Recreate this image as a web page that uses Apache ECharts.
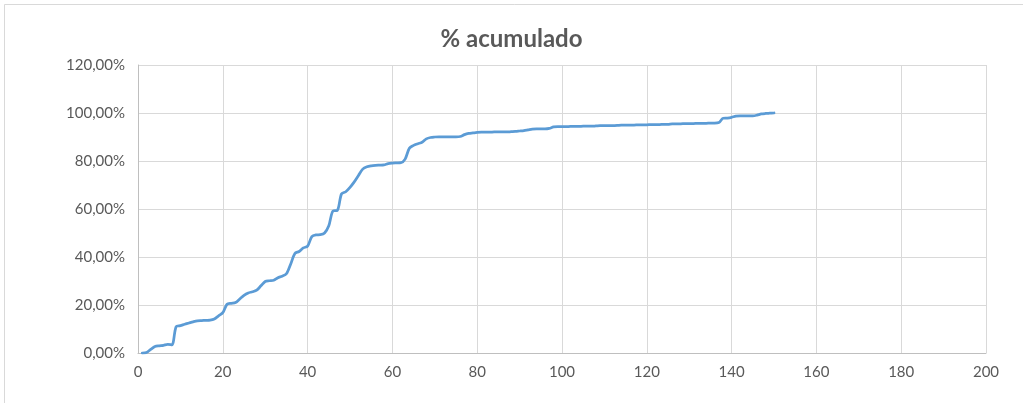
<!DOCTYPE html>
<html>
<head>
<meta charset="utf-8">
<script src="https://cdn.jsdelivr.net/npm/echarts@6/dist/echarts.min.js"></script>
<style>html,body{margin:0;padding:0;background:#fff}#c{width:1023px;height:403px}</style>
</head>
<body>
<div id="c"></div>
<script>
const titleText = "% acumulado";
const xValues = [];
for (let i = 1; i <= 150; i++) xValues.push(i);
const pctValues = [
  0, 0.2, 1.5, 2.7, 3.0, 3.2, 3.6, 3.4, 11.0, 11.4,
  12.0, 12.5, 13.0, 13.4, 13.5, 13.6, 13.7, 14.2, 15.5, 16.8,
  20.3, 20.7, 21.0, 22.5, 24.0, 25.0, 25.5, 26.2, 28.0, 29.8,
  30.1, 30.3, 31.4, 32.0, 33.0, 37.0, 41.5, 42.3, 43.8, 44.5,
  48.5, 49.2, 49.3, 50.0, 53.0, 59.2, 59.4, 66.3, 67.2, 69.0,
  71.3, 74.0, 76.6, 77.6, 78.0, 78.2, 78.3, 78.4, 78.9, 79.1,
  79.2, 79.3, 80.8, 85.3, 86.5, 87.2, 87.8, 89.2, 89.8, 90.0,
  90.1, 90.1, 90.1, 90.1, 90.1, 90.2, 91.0, 91.5, 91.7, 91.9,
  92.0, 92.0, 92.0, 92.1, 92.1, 92.1, 92.1, 92.2, 92.3, 92.5,
  92.7, 93.0, 93.3, 93.4, 93.4, 93.4, 93.6, 94.2, 94.3, 94.3,
  94.3, 94.4, 94.4, 94.4, 94.5, 94.5, 94.5, 94.6, 94.7, 94.7,
  94.7, 94.7, 94.8, 95.0, 95.0, 95.0, 95.0, 95.1, 95.1, 95.1,
  95.2, 95.2, 95.2, 95.3, 95.3, 95.5, 95.5, 95.5, 95.6, 95.6,
  95.6, 95.7, 95.7, 95.7, 95.8, 95.8, 96.0, 97.8, 97.9, 98.2,
  98.7, 98.8, 98.8, 98.8, 98.8, 99.1, 99.6, 99.8, 99.9, 100.0
];
const seriesData = xValues.map((x, i) => [x, pctValues[i]]);

const font = "Lato, 'Open Sans', sans-serif";
const chart = echarts.init(document.getElementById('c'), null, {renderer: 'canvas'});
chart.setOption({
  animation: false,
  backgroundColor: '#fff',
  graphic: [{
    type: 'rect', silent: true, z: -1,
    shape: {x: 4.5, y: 4.5, width: 1100, height: 500},
    style: {fill: '#fff', stroke: '#d9d9d9', lineWidth: 1}
  }],
  title: {
    text: titleText, left: 'center', top: 22,
    textStyle: {fontFamily: font, fontSize: 24, fontWeight: 'bold', color: '#595959'}
  },
  grid: {left: 138, right: 37, top: 65, bottom: 50},
  xAxis: {
    type: 'value', min: 0, max: 200, interval: 20,
    axisLine: {show: true, lineStyle: {color: '#bfbfbf', width: 1}},
    axisTick: {show: false},
    axisLabel: {color: '#595959', fontFamily: font, fontSize: 15, margin: 12},
    splitLine: {show: true, lineStyle: {color: '#d9d9d9', width: 1}}
  },
  yAxis: {
    type: 'value', min: 0, max: 120, interval: 20,
    axisLine: {show: true, lineStyle: {color: '#bfbfbf', width: 1}},
    axisTick: {show: false},
    axisLabel: {
      color: '#595959', fontFamily: font, fontSize: 15, margin: 13,
      formatter: v => v.toFixed(2).replace('.', ',') + '%'
    },
    splitLine: {show: true, lineStyle: {color: '#d9d9d9', width: 1}}
  },
  series: [{
    type: 'line', data: seriesData, smooth: 0.3, showSymbol: false,
    lineStyle: {color: '#5b9bd5', width: 2.75, cap: 'round', join: 'round'},
    itemStyle: {color: '#5b9bd5'}
  }]
});
</script>
</body>
</html>
